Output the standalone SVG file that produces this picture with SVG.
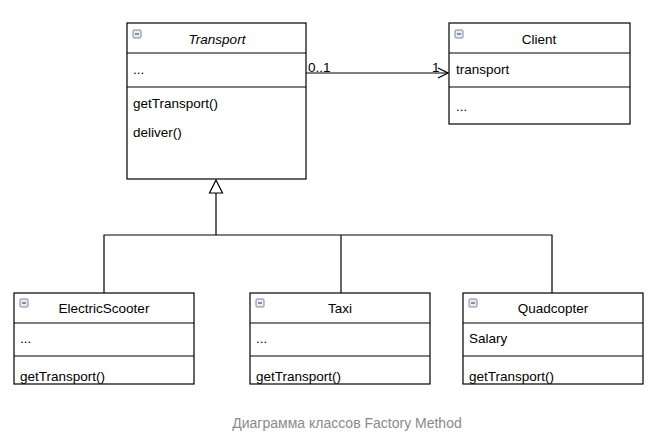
<svg xmlns="http://www.w3.org/2000/svg" width="667" height="432" viewBox="0 0 667 432">
<defs>
<style>
.box{fill:#fff;stroke:#000;stroke-width:1.2}
.sep{stroke:#000;stroke-width:1.2}
.t{font-family:"Liberation Sans",Arial,sans-serif;font-size:13.5px;fill:#000}
.h{text-anchor:middle}
.ic{fill:#e8ecf2;stroke:#7a8799;stroke-width:1}
.icl{stroke:#4a5566;stroke-width:1.2}
.ln{fill:none;stroke:#000;stroke-width:1.2}
.cap{font-family:"Liberation Sans",Arial,sans-serif;font-size:14px;fill:#8a8a8a;text-anchor:middle}
</style>
<g id="icon">
<rect class="ic" x="0" y="0" width="8" height="8" rx="1"/>
<line class="icl" x1="2" y1="4" x2="6" y2="4"/>
</g>
<marker id="open" markerWidth="12" markerHeight="12" refX="11" refY="6" orient="auto" markerUnits="userSpaceOnUse">
<path d="M1,1 L11,6 L1,11" fill="none" stroke="#000" stroke-width="1.2"/>
</marker>
</defs>
<rect width="667" height="432" fill="#fff"/>
<g id="connectors">
<line class="ln" x1="306" y1="73" x2="448" y2="73" marker-end="url(#open)"/>
<text class="t" x="308" y="72">0..1</text>
<text class="t" x="432" y="72">1</text>
<polyline class="ln" points="104,293 104,235 552,235 552,293"/>
<line class="ln" x1="341" y1="235" x2="341" y2="293"/>
<line class="ln" x1="216" y1="235" x2="216" y2="193"/>
<polygon points="216,180 209.5,193 222.5,193" fill="#fff" stroke="#000" stroke-width="1.2"/>
</g>
<g id="Transport">
<rect class="box" x="127" y="23" width="179" height="156"/>
<line class="sep" x1="127" y1="53" x2="306" y2="53"/>
<line class="sep" x1="127" y1="87" x2="306" y2="87"/>
<use href="#icon" x="133" y="30"/>
<text class="t h" x="217" y="44" font-style="italic">Transport</text>
<text class="t" x="133" y="74">...</text>
<text class="t" x="133" y="108">getTransport()</text>
<text class="t" x="133" y="137">deliver()</text>
</g>
<g id="Client">
<rect class="box" x="449" y="23" width="181" height="101"/>
<line class="sep" x1="449" y1="53" x2="630" y2="53"/>
<line class="sep" x1="449" y1="87" x2="630" y2="87"/>
<use href="#icon" x="455" y="30"/>
<text class="t h" x="539" y="44">Client</text>
<text class="t" x="456" y="74">transport</text>
<text class="t" x="456" y="111">...</text>
</g>
<g id="ElectricScooter">
<rect class="box" x="14" y="293" width="180" height="91"/>
<line class="sep" x1="14" y1="323" x2="194" y2="323"/>
<line class="sep" x1="14" y1="356" x2="194" y2="356"/>
<use href="#icon" x="20" y="299"/>
<text class="t h" x="104" y="313">ElectricScooter</text>
<text class="t" x="20" y="343">...</text>
<text class="t" x="20" y="381">getTransport()</text>
</g>
<g id="Taxi">
<rect class="box" x="250" y="293" width="180" height="91"/>
<line class="sep" x1="250" y1="323" x2="430" y2="323"/>
<line class="sep" x1="250" y1="356" x2="430" y2="356"/>
<use href="#icon" x="256" y="299"/>
<text class="t h" x="340" y="313">Taxi</text>
<text class="t" x="256" y="343">...</text>
<text class="t" x="256" y="381">getTransport()</text>
</g>
<g id="Quadcopter">
<rect class="box" x="463" y="293" width="180" height="91"/>
<line class="sep" x1="463" y1="323" x2="643" y2="323"/>
<line class="sep" x1="463" y1="356" x2="643" y2="356"/>
<use href="#icon" x="469" y="299"/>
<text class="t h" x="553" y="313">Quadcopter</text>
<text class="t" x="469" y="343">Salary</text>
<text class="t" x="469" y="381">getTransport()</text>
</g>
<text class="cap" x="347" y="428">Диаграмма классов Factory Method</text>
</svg>
